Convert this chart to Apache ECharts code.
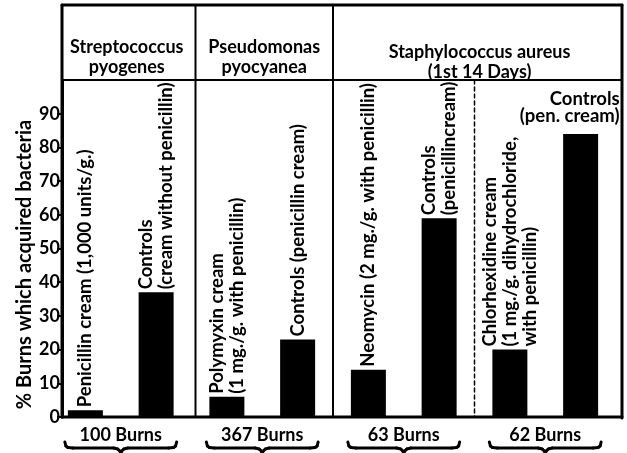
<!DOCTYPE html>
<html>
<head>
<meta charset="UTF-8">
<title>Burns which acquired bacteria</title>
<script src="https://cdn.jsdelivr.net/npm/echarts@6/dist/echarts.min.js"></script>
<style>
  html, body { margin: 0; padding: 0; background: #fff; }
  #main { width: 627px; height: 453px; }
</style>
</head>
<body>
<div id="main"></div>
<script type="text/javascript">
// bar labels (one per bar, left to right)
var categories = [
  'Penicillin cream (1,000 units/g.)',
  'Controls\n(cream without penicillin)',
  'Polymyxin cream\n(1 mg./g. with penicillin)',
  'Controls (penicillin cream)',
  'Neomycin (2 mg./g. with penicillin)',
  'Controls\n(penicillincream)',
  'Chlorhexidine cream\n(1 mg./g. dihydrochloride,\nwith penicillin)',
  'Controls\n(pen. cream)'
];
// % burns which acquired bacteria
var values = [2, 37, 6, 23, 14, 59, 20, 84];
var yTicks = [0, 10, 20, 30, 40, 50, 60, 70, 80, 90];
var yName = '% Burns which acquired bacteria';
// organism headers, each over a range of bars
var groupNames = ['Streptococcus\npyogenes', 'Pseudomonas\npyocyanea', 'Staphylococcus aureus\n(1st 14 Days)'];
var groupBars = [[0, 1], [2, 3], [4, 7]];
// number of burns under each pair of bars
var burnLabels = ['100 Burns', '367 Burns', '63 Burns', '62 Burns'];
var burnBars = [[0, 1], [2, 3], [4, 5], [6, 7]];

var font = 'Lato';
var axisOffset = 12;

var dom = document.getElementById('main');
var myChart = echarts.init(dom);

var barData = values.map(function(v, i) {
  if (i === values.length - 1) {
    // last label sits flat above its bar, flush right
    return {
      value: v,
      label: { rotate: 0, align: 'right', verticalAlign: 'bottom', offset: [39, -6], lineHeight: 17 }
    };
  }
  return v;
});

var option = {
  animation: false,
  grid: { left: 50, right: 11, top: 80, bottom: 36 },
  xAxis: {
    type: 'category',
    data: categories,
    axisLine: { show: false },
    axisTick: { show: false },
    axisLabel: { show: false },
    splitLine: { show: false }
  },
  yAxis: {
    type: 'value',
    min: 0,
    max: 100,
    interval: 10,
    offset: -axisOffset,
    axisLine: { show: true, lineStyle: { color: '#000', width: 3 } },
    axisTick: { show: true, length: 5, customValues: yTicks, lineStyle: { color: '#000', width: 2 } },
    axisLabel: {
      color: '#000', fontSize: 18, fontWeight: 'bold', fontFamily: font, margin: 2,
      customValues: yTicks
    },
    splitLine: { show: false }
  },
  series: [{
    type: 'bar',
    data: barData,
    barWidth: 35,
    itemStyle: { color: '#000' },
    label: {
      show: true,
      position: 'top',
      rotate: 90,
      align: 'left',
      verticalAlign: 'middle',
      distance: 3,
      color: '#000',
      fontSize: 18.5,
      fontWeight: 'bold',
      fontFamily: font,
      lineHeight: 20,
      formatter: function(p) { return categories[p.dataIndex]; }
    }
  }]
};
myChart.setOption(option);

// frame, dividers, headers and braces from the chart's own scales
var cx = function(i) { return myChart.convertToPixel({ xAxisIndex: 0 }, i); };
var cy = function(v) { return myChart.convertToPixel({ yAxisIndex: 0 }, v); };
var band = cx(1) - cx(0);
var half = 35 / 2;
var y0 = cy(0), y100 = cy(100);
var frameLeft = cx(0) - band / 2 + axisOffset;
var frameRight = 622, frameTop = 5;
var boundary = function(i) { return cx(i) - band / 2; };

function txt(s, size, extra) {
  var st = { text: s, fontSize: size, fontWeight: 'bold', fontFamily: font, fill: '#000', align: 'center', verticalAlign: 'middle' };
  for (var k in extra) st[k] = extra[k];
  return st;
}
function seg(x1, y1, x2, y2, w, dash) {
  var st = { stroke: '#000', lineWidth: w, lineCap: 'round' };
  if (dash) st.lineDash = dash;
  return { type: 'line', shape: { x1: x1, y1: y1, x2: x2, y2: y2 }, style: st };
}

var gfx = [
  seg(frameLeft, frameTop, frameRight, frameTop, 3),
  seg(frameLeft, frameTop, frameLeft, y0, 3),
  seg(frameRight, frameTop, frameRight, y0 + 1, 3),
  seg(frameLeft, y0, frameRight, y0, 3),
  seg(frameLeft, y100, frameRight, y100, 2),
  seg(boundary(2) + 4, frameTop, boundary(2) + 4, y0, 2),
  seg(boundary(4), frameTop, boundary(4), y0, 2),
  seg(boundary(6), y100, boundary(6), y0, 1.5, [4, 3]),
  {
    type: 'text', x: frameLeft - 37, y: (y0 + y100) / 2 + 16, rotation: Math.PI / 2,
    style: txt(yName, 20)
  }
];

groupNames.forEach(function(name, g) {
  var a = groupBars[g][0], b = groupBars[g][1];
  var left = a === 0 ? frameLeft : boundary(a) + 4;
  var right = b === values.length - 1 ? frameRight : boundary(b + 1);
  gfx.push({
    type: 'text',
    x: (left + right) / 2,
    y: g === 2 ? 62 : 57,
    style: txt(name, 18, { lineHeight: 20 })
  });
});

burnLabels.forEach(function(label, k) {
  var l = cx(burnBars[k][0]) - half - 3;
  var r = cx(burnBars[k][1]) + half + 3;
  var m = (l + r) / 2;
  gfx.push({ type: 'text', x: m, y: y0 + 18, style: txt(label, 18) });
  var top = y0 + 25, mid = y0 + 31, tip = y0 + 36;
  var pts = [
    [l, top], [l + 1, mid - 2], [l + 3, mid - 0.5], [l + 8, mid],
    [m - 7, mid], [m - 3, mid + 1], [m - 1, mid + 3], [m, tip],
    [m + 1, mid + 3], [m + 3, mid + 1], [m + 7, mid],
    [r - 8, mid], [r - 3, mid - 0.5], [r - 1, mid - 2], [r, top]
  ];
  for (var i = 1; i < pts.length; i++) {
    gfx.push(seg(pts[i - 1][0], pts[i - 1][1], pts[i][0], pts[i][1], 3));
  }
});

myChart.setOption({ graphic: gfx });
</script>
</body>
</html>
